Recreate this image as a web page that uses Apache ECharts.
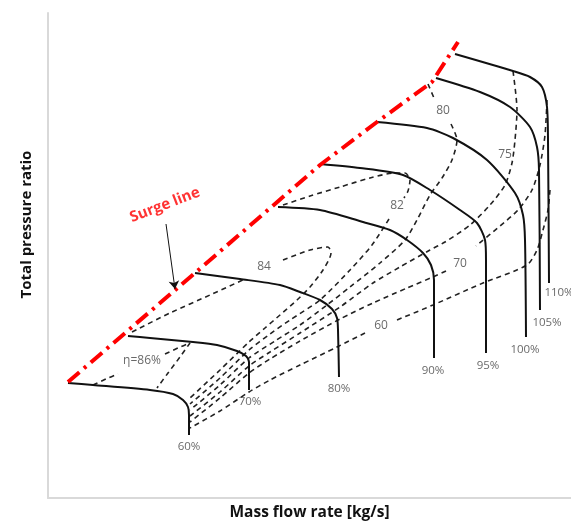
<!DOCTYPE html>
<html>
<head>
<meta charset="utf-8">
<script src="https://cdn.jsdelivr.net/npm/echarts@6/dist/echarts.min.js"></script>
<style>
  html, body { margin: 0; background: #fff; }
  #chart { width: 571px; height: 525px; }
</style>
</head>
<body>
<div id="chart"></div>
<script>
// compressor map, axes have no ticks so units are arbitrary (mass flow / pressure ratio)

// speed lines (solid)
const speed60 = [[20,115],[45,113],[102,108],[125,104],[135,98],[140,91],[141,83],[141,63]];
const speed70 = [[80,162],[102,160],[145,156],[169,153],[189,147],[198,142],[201,136],[201,108]];
const speed80 = [[147,225],[192,219],[232,213],[252,206],[272,198],[284,189],[289,180],[290,168],[291,121]];
const speed90 = [[230,291],[272,288],[315,276],[342,268],[359,258],[375,245],[383,233],[386,218],[386,140]];
const speed95 = [[272,334],[312,330],[355,323],[382,308],[412,288],[429,275],[437,258],[438,238],[438,145]];
const speed100 = [[329,376],[379,370],[405,360],[439,338],[467,305],[475,283],[477,258],[478,161]];
const speed105 = [[388,420],[432,406],[462,391],[482,371],[489,351],[491,328],[492,188]];
const speed110 = [[407,444],[465,427],[482,421],[494,411],[499,391],[500,358],[501,215]];
const speedLabels = ['60%', '70%', '80%', '90%', '95%', '100%', '105%', '110%'];
const speedLabelPos = [[141,51],[202,96],[291,109],[385,127],[440,132],[477,148],[499,175],[511,205]];

// efficiency contours (dashed), split where a label sits
const eta86a = [[45,113],[58,119],[70,124]];
const eta86b = [[117,144],[130,150],[142,155],[132,141],[120,125],[109,110]];
const eta84a = [[84,166],[122,185],[162,203],[197,219]];
const eta84b = [[235,238],[262,248],[280,251],[283,245],[275,228],[262,211],[249,198],[232,183],[217,170],[201,156],[172,128],[142,100]];
const eta82a = [[235,293],[262,302],[292,311],[322,320],[347,325],[357,325],[362,318],[360,307],[356,300]];
const eta82b = [[341,279],[324,253],[302,228],[272,198],[242,178],[222,164],[201,148],[172,120],[142,94]];
const eta80a = [[380,414],[386,400]];
const eta80b = [[403,374],[409,358],[404,338],[394,320],[382,303],[370,280],[357,258],[332,235],[302,211],[279,193],[252,173],[227,157],[201,140],[172,113],[142,88]];
const eta75 = [[465,427],[469,388],[467,358],[464,335],[457,313],[442,293],[422,273],[397,256],[382,248],[352,231],[325,215],[292,191],[252,165],[222,146],[201,132],[172,106],[142,82]];
const eta70a = [[499,398],[497,363],[492,333],[484,308],[470,288],[452,272],[428,252]];
const eta70b = [[398,227],[385,221],[359,210],[325,195],[292,179],[252,157],[222,139],[201,125],[172,100],[142,76]];
const eta60a = [[502,308],[500,288],[495,268],[489,248],[479,233],[435,215],[385,193],[349,178]];
const eta60b = [[317,165],[289,151],[252,133],[222,118],[201,106],[172,87],[142,70]];
const etaLabels = ['η=86%', '84', '82', '80', '75', '70', '60'];
const etaLabelPos = [[94,137],[216,231],[349,292],[395,387],[457,343],[412,234],[333,172]];

// surge line
const surgeLine = [[20,116],[147,225],[272,333],[329,376],[384,416],[410,456]];
const surgeArrow = [[118,274],[127,209]];
const surgeLabelPos = [[117,293]];

const chart = echarts.init(document.getElementById('chart'));

const speedLines = [speed60, speed70, speed80, speed90, speed95, speed100, speed105, speed110];
const etaLines = [eta86a, eta86b, eta84a, eta84b, eta82a, eta82b, eta80a, eta80b, eta75, eta70a, eta70b, eta60a, eta60b];

const series = [];
etaLines.forEach(d => {
  series.push({
    type: 'line', data: d, showSymbol: false, smooth: 0.25, silent: true, z: 2,
    lineStyle: { color: '#222', width: 1.6, type: [5, 4] }
  });
});
speedLines.forEach(d => {
  series.push({
    type: 'line', data: d, showSymbol: false, smooth: 0.25, silent: true, z: 3,
    lineStyle: { color: '#111', width: 2 }
  });
});
series.push({
  type: 'line', data: surgeLine, showSymbol: false, silent: true, z: 5,
  lineStyle: { color: '#ff0000', width: 4, type: [15, 6, 3, 6] }
});
series.push({
  type: 'lines', coordinateSystem: 'cartesian2d', silent: true, z: 6,
  symbol: ['none', 'arrow'], symbolSize: 8,
  lineStyle: { color: '#111', width: 1, opacity: 1 },
  data: [{ coords: surgeArrow }]
});
series.push({
  type: 'scatter', symbolSize: 0, silent: true, z: 7,
  data: speedLabelPos.map((p, i) => ({ value: p, name: speedLabels[i] })),
  label: { show: true, position: 'inside', formatter: '{b}', color: '#444', fontSize: 11.5, fontFamily: 'Open Sans' }
});
series.push({
  type: 'scatter', symbolSize: 0, silent: true, z: 7,
  data: etaLabelPos.map((p, i) => ({ value: p, name: etaLabels[i] })),
  label: { show: true, position: 'inside', formatter: '{b}', color: '#444', fontSize: 12, fontFamily: 'Open Sans' }
});
series.push({
  type: 'scatter', symbolSize: 0, silent: true, z: 7,
  data: surgeLabelPos.map(p => ({ value: p, name: 'Surge line' })),
  label: { show: true, position: 'inside', formatter: '{b}', rotate: 21, color: '#ff0000', fontSize: 15, fontWeight: 'bold', fontFamily: 'Open Sans' }
});

chart.setOption({
  animation: false,
  grid: { left: 48, top: 13, right: 0, bottom: 27, outerBoundsMode: 'none' },
  xAxis: {
    type: 'value', min: 0, max: 523,
    name: 'Mass flow rate [kg/s]', nameLocation: 'middle', nameGap: 7,
    nameTextStyle: { color: '#111', fontSize: 15.5, fontWeight: 'bold', fontFamily: 'Open Sans' },
    axisLine: { lineStyle: { color: '#d9d9d9', width: 2 } },
    axisTick: { show: false }, axisLabel: { show: false }, splitLine: { show: false }
  },
  yAxis: {
    type: 'value', min: 0, max: 485,
    name: 'Total pressure ratio', nameLocation: 'middle', nameGap: 14, nameRotate: 90,
    nameTextStyle: { color: '#111', fontSize: 15, fontWeight: 'bold', fontFamily: 'Open Sans', padding: [0, 0, 0, 62] },
    axisLine: { show: true, lineStyle: { color: '#d9d9d9', width: 2 } },
    axisTick: { show: false }, axisLabel: { show: false }, splitLine: { show: false }
  },
  series: series
});
</script>
</body>
</html>
